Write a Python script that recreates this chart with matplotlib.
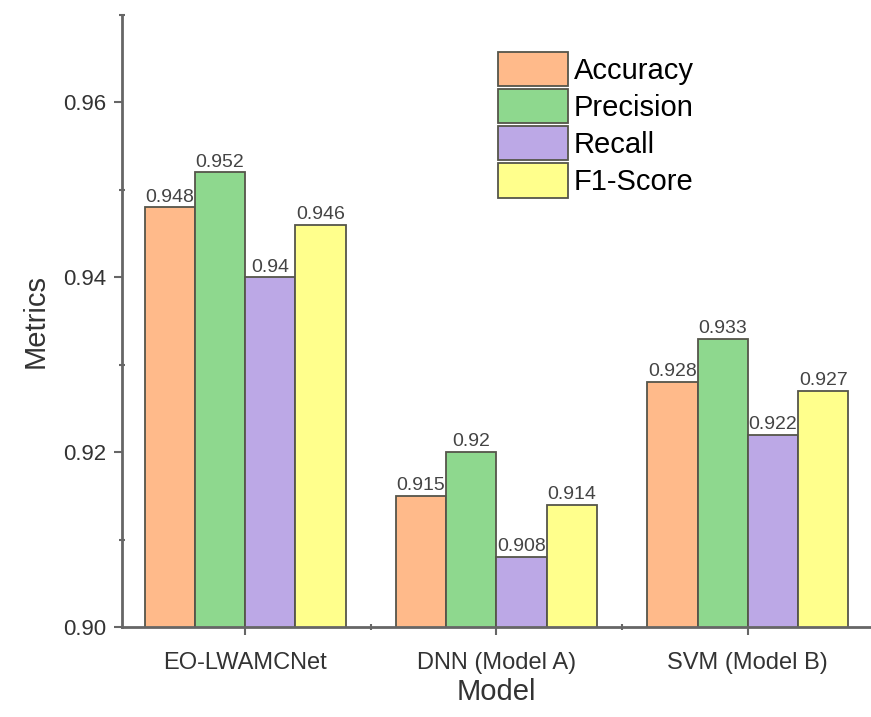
import numpy as np
import matplotlib.pyplot as plt
from matplotlib.ticker import FixedLocator

models = ["EO-LWAMCNet", "DNN (Model A)", "SVM (Model B)"]
metrics = ["Accuracy", "Precision", "Recall", "F1-Score"]
accuracy = [0.948, 0.915, 0.928]
precision = [0.952, 0.920, 0.933]
recall = [0.940, 0.908, 0.922]
f1_score = [0.946, 0.914, 0.927]
value_labels = [
    ["0.948", "0.915", "0.928"],
    ["0.952", "0.92", "0.933"],
    ["0.94", "0.908", "0.922"],
    ["0.946", "0.914", "0.927"],
]

colors = ["#FFBA8A", "#8ED88E", "#BCA8E6", "#FFFF8C"]
series = [accuracy, precision, recall, f1_score]

plt.rcParams['font.family'] = ['Liberation Sans', 'DejaVu Sans']

fig = plt.figure(figsize=(8.71, 7.17), dpi=100)
ax = fig.add_axes([0.14, 0.1255, 0.86, 0.8535])

x = np.arange(len(models))
width = 0.2
for i, (name, vals) in enumerate(zip(metrics, series)):
    pos = x + (i - 1.5) * width
    ax.bar(pos, vals, width, color=colors[i], edgecolor="#55554a",
           linewidth=1.3, label=name, zorder=2)
    for p, v, t in zip(pos, vals, value_labels[i]):
        ax.text(p, v + 0.0002, t, ha="center", va="bottom",
                fontsize=14, color="#444444")

ax.set_ylim(0.90, 0.97)
ax.set_xlim(-0.49, 2.49)
ax.yaxis.set_major_locator(FixedLocator([0.90, 0.92, 0.94, 0.96]))
ax.yaxis.set_minor_locator(FixedLocator([0.91, 0.93, 0.95, 0.97]))
ax.set_yticklabels(["0.90", "0.92", "0.94", "0.96"])
ax.set_xticks(x)
ax.set_xticklabels(models)
ax.xaxis.set_minor_locator(FixedLocator([0.5, 1.5]))

for s in ["top", "right"]:
    ax.spines[s].set_visible(False)
for s in ["left", "bottom"]:
    ax.spines[s].set_color("#666666")
    ax.spines[s].set_linewidth(2)

ax.tick_params(axis="y", which="major", labelsize=16, length=6, pad=5,
               width=1.5, color="#666666", labelcolor="#333333")
ax.tick_params(axis="x", which="major", labelsize=17, length=6, pad=12,
               width=1.5, color="#666666", labelcolor="#333333")
ax.tick_params(axis="both", which="minor", length=4, width=1.5,
               color="#666666", direction="inout")

ax.set_ylabel("Metrics", fontsize=21, color="#333333", labelpad=10)
ax.set_xlabel("Model", fontsize=21, color="#333333", labelpad=3)

ax.legend(loc="upper left", bbox_to_anchor=(0.502, 0.94), frameon=False,
          fontsize=21, handlelength=2.4, handleheight=1.43,
          handletextpad=0.2, labelspacing=0.1, borderpad=0,
          borderaxespad=0)

fig.savefig("out.png", dpi=100)
